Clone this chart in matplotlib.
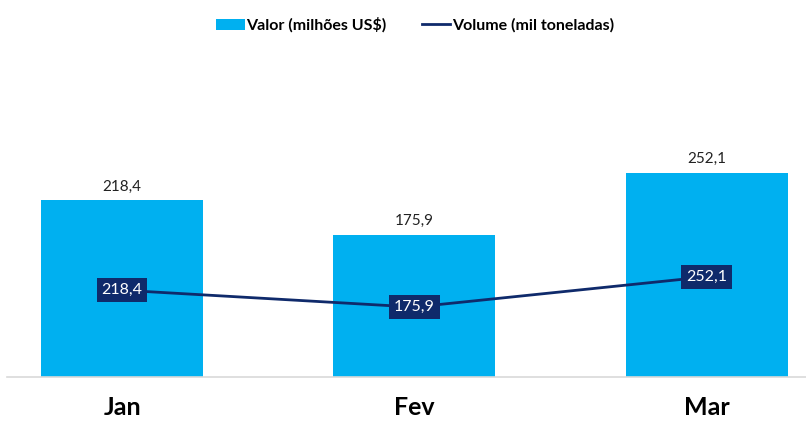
import matplotlib.pyplot as plt
from matplotlib.patches import Patch
from matplotlib.lines import Line2D

plt.rcParams['font.family'] = ['Lato', 'DejaVu Sans']

meses = ["Jan", "Fev", "Mar"]
valor = [218.4, 175.9, 252.1]
volume = [218.4, 175.9, 252.1]

cor_barra = "#00b0f0"
cor_linha = "#0f2a6b"


def fmt(v):
    return f"{v:.1f}".replace(".", ",")


fig = plt.figure(figsize=(8.06, 4.21), dpi=100)
ax = fig.add_axes([7 / 806, 1 - 377 / 421, 799 / 806, 324 / 421])
x = list(range(len(meses)))

ax.bar(x, valor, width=0.555, color=cor_barra, zorder=2)
for xi, v in zip(x, valor):
    ax.text(xi, v + 8, fmt(v), ha="center", va="bottom", fontsize=11, color="#222222")

ax.set_xlim(-0.394, 2.34)
ax.set_ylim(0, 400)
ax.set_yticks([])
ax.set_xticks(x)
ax.set_xticklabels(meses, fontsize=18, fontweight="bold")
ax.tick_params(axis="x", length=0, pad=14)
for s in ["top", "right", "left"]:
    ax.spines[s].set_visible(False)
ax.spines["bottom"].set_color("#d9d9d9")
ax.spines["bottom"].set_linewidth(1.2)

ax2 = ax.twinx()
ax2.plot(x, volume, color=cor_linha, linewidth=2, zorder=3)
for xi, v in zip(x, volume):
    ax2.text(xi, v, fmt(v), ha="center", va="center", fontsize=11.5, color="white",
             bbox=dict(boxstyle="square,pad=0.3", facecolor=cor_linha, edgecolor="none"))
ax2.set_ylim(0, 815)
ax2.set_yticks([])
for s in ["top", "right", "left", "bottom"]:
    ax2.spines[s].set_visible(False)

handles = [Patch(facecolor=cor_barra, label="Valor (milhões US$)"),
           Line2D([], [], color=cor_linha, linewidth=2, label="Volume (mil toneladas)")]
fig.legend(handles=handles, loc="center", bbox_to_anchor=(415 / 806, 1 - 25 / 421), ncol=2,
           frameon=False, prop={"weight": "bold", "size": 11.5}, handlelength=1.8,
           columnspacing=2.2, handletextpad=0.1)

fig.savefig("out.png", dpi=100)
